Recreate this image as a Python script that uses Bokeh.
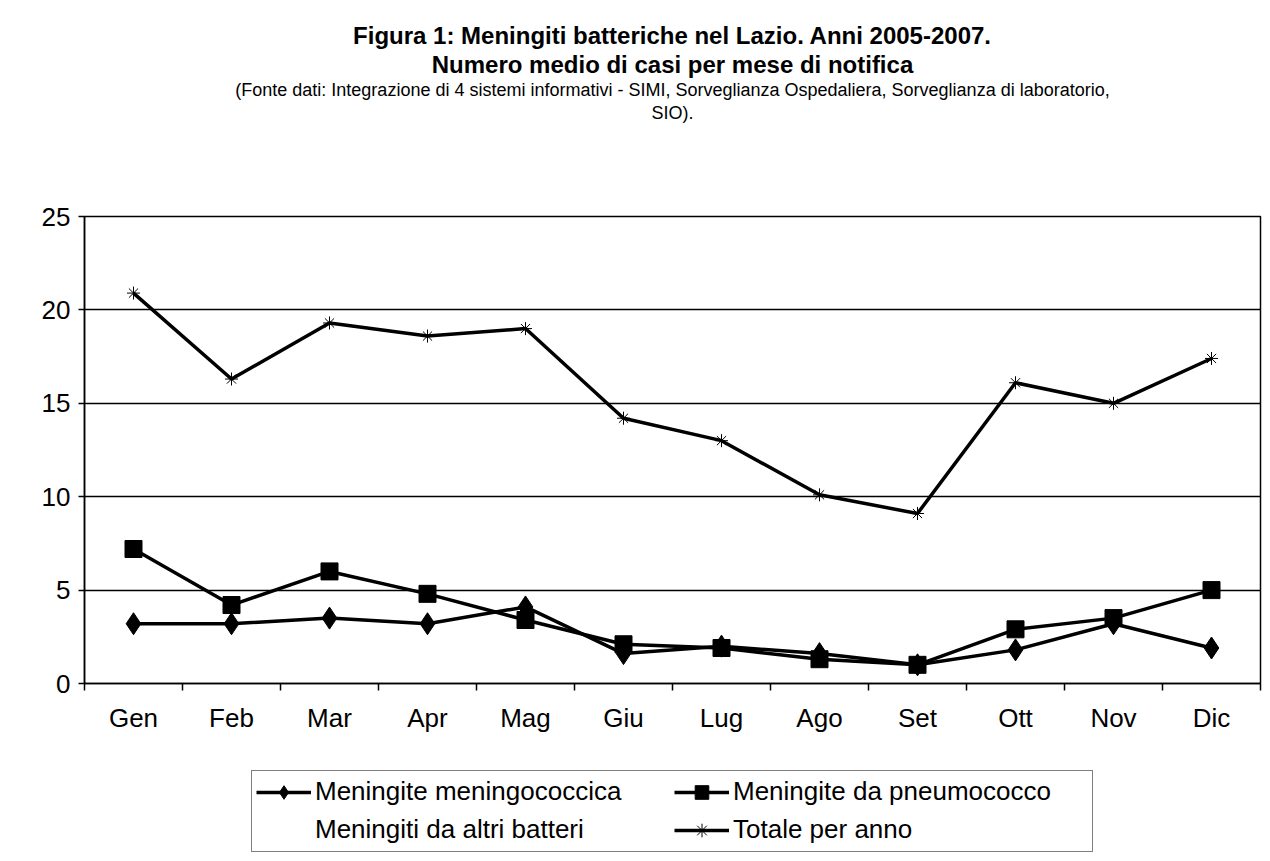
from bokeh.plotting import figure
from bokeh.layouts import column
from bokeh.models import (FactorRange, Range1d, LinearAxis, CategoricalAxis, FixedTicker,
                          Title, Legend, LegendItem)
from bokeh.embed import file_html
from bokeh.resources import INLINE

months = ["Gen", "Feb", "Mar", "Apr", "Mag", "Giu", "Lug", "Ago", "Set", "Ott", "Nov", "Dic"]
month_labels = ["Gen", "Feb", "Mar", "Apr", "Mag", "Glu", "Lug", "Ago", "Set", "Ott", "Nov", "Dic"]
meningococcica = [3.2, 3.2, 3.5, 3.2, 4.1, 1.6, 2.0, 1.6, 1.0, 1.8, 3.2, 1.9]
pneumococco = [7.2, 4.2, 6.0, 4.8, 3.4, 2.1, 1.9, 1.3, 1.0, 2.9, 3.5, 5.0]
totale = [20.9, 16.3, 19.3, 18.6, 19.0, 14.2, 13.0, 10.1, 9.1, 16.1, 15.0, 17.4]
y_ticks = [0, 5, 10, 15, 20, 25]

title1 = "Figura 1: Meningiti batteriche nel Lazio. Anni 2005-2007."
title2 = "Numero medio di casi per mese di notifica"
title3 = "(Fonte dati: Integrazione di 4 sistemi informativi - SIMI, Sorveglianza Ospedaliera, Sorveglianza di laboratorio,"
title4 = "SIO)."
series_names = ["Meningite meningococcica", "Meningite da pneumococco",
                "Meningiti da altri batteri", "Totale per anno"]

FONT = "Liberation Sans"
LINE = dict(line_color="black", line_width=3.5)
DIAMOND = dict(marker="diamond", size=22, fill_color="black", line_color="black")
SQUARE = dict(marker="square", size=17, fill_color="black", line_color="black")
STAR = dict(marker="asterisk", size=13, line_color="black", line_width=1)

p = figure(width=1262, height=760, output_backend="svg", toolbar_location=None,
           x_range=FactorRange(factors=months, range_padding=0),
           y_range=Range1d(0, 25), x_axis_location=None, title_location=None,
           min_border_left=84, min_border_right=2, min_border_top=216, min_border_bottom=77)

p.background_fill_color = "white"
p.border_fill_color = "white"
p.outline_line_color = "black"
p.outline_line_width = 1.5

# y axis
p.yaxis.ticker = FixedTicker(ticks=y_ticks)
p.yaxis.axis_line_color = "black"
p.yaxis.axis_line_width = 1.5
p.yaxis.major_tick_out = 6
p.yaxis.major_tick_in = 0
p.yaxis.minor_tick_line_color = None
p.yaxis.major_tick_line_width = 1.5
p.yaxis.major_label_text_font = FONT
p.yaxis.major_label_text_font_size = "26px"
p.yaxis.major_label_text_color = "black"
p.yaxis.major_label_standoff = 8
p.ygrid.grid_line_color = "black"
p.ygrid.grid_line_width = 1.5
p.ygrid.ticker = FixedTicker(ticks=y_ticks)

# x axis: ticks at category boundaries (synthetic coordinates) + category labels
tick_axis = LinearAxis(ticker=FixedTicker(ticks=[], minor_ticks=list(range(len(months) + 1))),
                       major_tick_line_color=None,
                       minor_tick_out=7, minor_tick_in=0, minor_tick_line_color="black",
                       minor_tick_line_width=1.5,
                       axis_line_color="black", axis_line_width=1.5)
p.add_layout(tick_axis, "below")
cat_axis = CategoricalAxis(axis_line_color=None, major_tick_line_color=None,
                           minor_tick_line_color=None,
                           major_label_text_font=FONT, major_label_text_font_size="26px",
                           major_label_text_color="black", major_label_standoff=6,
                           major_label_overrides=dict(zip(months, month_labels)))
p.add_layout(cat_axis, "below")
p.xgrid.grid_line_color = None

# data
p.line(months, meningococcica, **LINE)
p.scatter(months, meningococcica, **DIAMOND)
p.line(months, pneumococco, **LINE)
p.scatter(months, pneumococco, **SQUARE)
p.line(months, totale, **LINE)
p.scatter(months, totale, **STAR)

# titles stacked above (first added = nearest the frame)
p.add_layout(Title(text=" ", text_font_size="10px", standoff=80), "above")
for txt, size, style, so in [(title4, "18px", "normal", 2), (title3, "18px", "normal", 0),
                             (title2, "24px", "bold", 0), (title1, "24px", "bold", 0)]:
    p.add_layout(Title(text=txt, align="center", text_font=FONT, text_font_size=size,
                       text_font_style=style, text_color="black", standoff=so), "above")

# legend strip (separate figure so that the legend is not clipped);
# the series are drawn again out of its visible range only to supply the legend glyphs
lf = figure(width=1262, height=93, output_backend="svg", toolbar_location=None,
            x_range=FactorRange(factors=months, range_padding=0), y_range=Range1d(1000, 1001),
            x_axis_location=None, y_axis_location=None, title_location=None,
            min_border_left=78, min_border_right=0, min_border_top=8, min_border_bottom=0)
lf.outline_line_color = None
lf.xgrid.grid_line_color = None
lf.ygrid.grid_line_color = None
r1 = [lf.line(months, meningococcica, **LINE), lf.scatter(months, meningococcica, **DIAMOND)]
r2 = [lf.line(months, pneumococco, **LINE), lf.scatter(months, pneumococco, **SQUARE)]
r3 = [lf.line(x=[], y=[], line_color="white", line_alpha=0)]
r4 = [lf.line(months, totale, **LINE), lf.scatter(months, totale, **STAR)]

legend = Legend(items=[
    LegendItem(label=series_names[0], renderers=r1),
    LegendItem(label=series_names[1], renderers=r2),
    LegendItem(label=series_names[2], renderers=r3),
    LegendItem(label=series_names[3], renderers=r4),
], location="center", orientation="horizontal", ncols=2,
    label_text_font=FONT, label_text_font_size="26px", label_text_color="black",
    label_width=355, glyph_width=55, glyph_height=34, label_standoff=4, spacing=4,
    padding=4, margin=0, border_line_color="black", border_line_width=1.5,
    background_fill_color="white", background_fill_alpha=1.0)
lf.add_layout(legend, "center")

layout = column(p, lf, spacing=0)
open("out.html", "w").write(file_html(layout, INLINE))
